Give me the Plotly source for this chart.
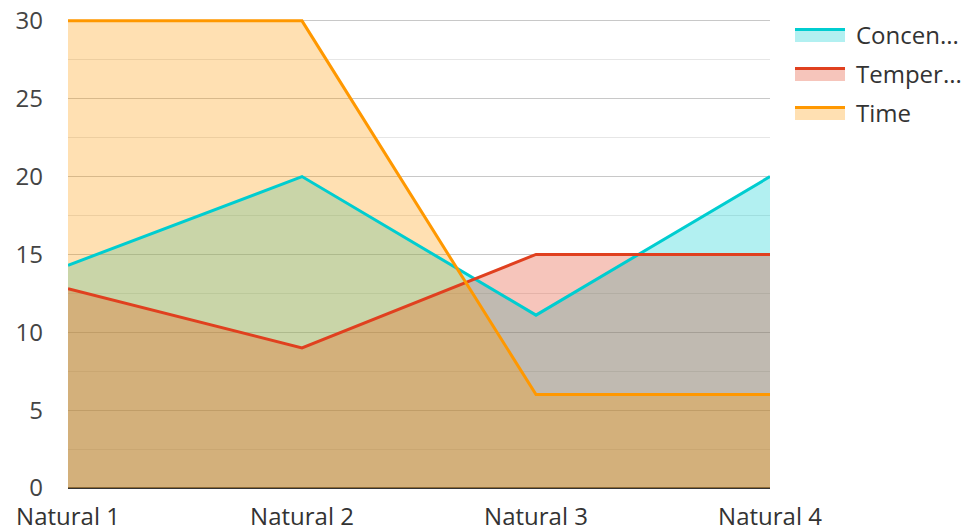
import plotly.graph_objects as go

categories = ["Natural 1", "Natural 2", "Natural 3", "Natural 4"]
concentration = [14.3, 20, 11.1, 20]
temperature = [12.8, 9, 15, 15]
time_vals = [30, 30, 6, 6]
series_names = ["Concen...", "Temper...", "Time"]
y_ticks = [0, 5, 10, 15, 20, 25, 30]

line_colors = ["#00CDD0", "#E0401F", "#FF9800"]
fill_colors = ["rgba(0,206,209,0.3)", "rgba(224,64,31,0.3)", "rgba(255,152,0,0.3)"]
all_series = [concentration, temperature, time_vals]

fig = go.Figure()
# fills first
for name, vals, fc in zip(series_names, all_series, fill_colors):
    fig.add_trace(go.Scatter(
        x=categories, y=vals, name=name, mode="none",
        fill="tozeroy", fillcolor=fc, showlegend=False, hoverinfo="skip",
    ))
# lines on top
for name, vals, lc in zip(series_names, all_series, line_colors):
    fig.add_trace(go.Scatter(
        x=categories, y=vals, name=name, mode="lines",
        line=dict(color=lc, width=3), showlegend=False,
    ))

# custom legend (pixel-sized, anchored near plot top-right corner)
shapes = []
annotations = []
row_gap = 39
for i, (name, lc, fc) in enumerate(zip(series_names, line_colors, fill_colors)):
    top = -9 - i * row_gap
    shapes.append(dict(type="rect", xref="paper", yref="paper", xsizemode="pixel", ysizemode="pixel",
                       xanchor=1, yanchor=1, x0=25, x1=75, y0=top - 14, y1=top,
                       fillcolor=fc, line=dict(width=0)))
    shapes.append(dict(type="rect", xref="paper", yref="paper", xsizemode="pixel", ysizemode="pixel",
                       xanchor=1, yanchor=1, x0=25, x1=75, y0=top - 3, y1=top,
                       fillcolor=lc, line=dict(width=0)))
    annotations.append(dict(text=name, xref="paper", yref="paper", x=1, y=1, xshift=84,
                            yshift=top - 6, xanchor="left", yanchor="middle", showarrow=False,
                            font=dict(size=24, color="#333")))

fig.update_layout(
    width=962, height=529,
    margin=dict(l=68, r=192, t=19, b=41, autoexpand=False),
    paper_bgcolor="white", plot_bgcolor="white",
    font=dict(family="Open Sans", size=24, color="#444"),
    showlegend=False,
    shapes=shapes, annotations=annotations,
    xaxis=dict(range=[0, 3], showgrid=False, zeroline=False, showline=False, automargin=False,
               tickfont=dict(size=24, color="#333"), ticklabelstandoff=12, ticklabeloverflow="allow"),
    yaxis=dict(range=[0, 30.12], tickvals=y_ticks, showgrid=True, gridcolor="#c8c8c8",
               gridwidth=1, zeroline=True, zerolinecolor="#333", zerolinewidth=2, automargin=False,
               showline=False, tickfont=dict(size=24, color="#444"), ticklabelstandoff=24,
               ticklabeloverflow="allow",
               minor=dict(dtick=2.5, showgrid=True, gridcolor="#e6e6e6", gridwidth=1)),
)

fig.write_html("out.html", config={"displayModeBar": False},
               post_script="document.body.style.margin='0';document.body.style.overflow='hidden';")
